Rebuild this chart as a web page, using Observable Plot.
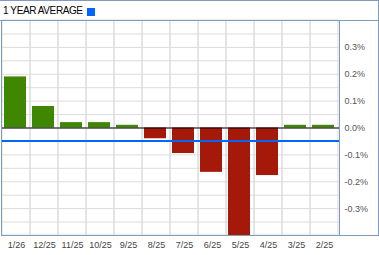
<!DOCTYPE html>
<html>
<head>
<meta charset="utf-8">
<script src="https://cdn.jsdelivr.net/npm/d3@7"></script>
<script src="https://cdn.jsdelivr.net/npm/@observablehq/plot@0.6"></script>
<style>
  html, body { margin: 0; padding: 0; background: #fff; }
  #wrap { position: relative; width: 379px; height: 255px; font-family: "Liberation Sans", Arial, sans-serif; }
  #head { box-sizing: border-box; width: 379px; height: 21px; border-top: 1px solid #7f9cbd; border-right: 1px solid #7f9cbd; border-bottom: 1px solid #7f9cbd; position: relative; }
  #head .t { position: absolute; left: 3px; top: 4px; font-size: 10px; color: #000; line-height: 11px; letter-spacing: -0.4px; }
  #head .sq { position: absolute; left: 87px; top: 7px; width: 8px; height: 8px; background: #0066ff; }
  #chart { margin-top: -1px; }
  #chart svg { display: block; }
  #box { position: absolute; left: 339px; top: 20px; width: 40px; height: 216px; box-sizing: border-box; border-right: 1px solid #7f9cbd; border-bottom: 1px solid #7f9cbd; pointer-events: none; }
</style>
</head>
<body>
<div id="wrap">
  <div id="head"><span class="t">1 YEAR AVERAGE</span><span class="sq"></span></div>
  <div id="chart"></div>
  <div id="box"></div>
</div>
<script>
const months = ["1/26","12/25","11/25","10/25","9/25","8/25","7/25","6/25","5/25","4/25","3/25","2/25"];
const values = [0.19, 0.08, 0.02, 0.02, 0.01, -0.04, -0.095, -0.165, -0.43, -0.177, 0.01, 0.01];
const average = [-0.048];
const gridTicks = [-0.4,-0.35,-0.3,-0.25,-0.2,-0.15,-0.1,-0.05,0,0.05,0.1,0.15,0.2,0.25,0.3,0.35,0.4];
const labelTicks = [-0.3,-0.2,-0.1,0,0.1,0.2,0.3];
const yDomain = [-0.4, 0.4];

const data = months.map((m, i) => ({month: m, value: values[i]}));

const chart = Plot.plot({
  width: 379,
  height: 235,
  marginLeft: 1,
  marginRight: 40,
  marginTop: 0,
  marginBottom: 20,
  style: {fontFamily: "'Liberation Sans', Arial, sans-serif", fontSize: "9px", color: "#444", background: "#fff", overflow: "visible"},
  x: {domain: months, padding: 0, label: null},
  y: {domain: yDomain, label: null},
  marks: [
    Plot.gridY(gridTicks, {stroke: "#dcdcdc", strokeOpacity: 1}),
    Plot.barY(months, {x: d => d, y1: yDomain[0], y2: yDomain[1], fill: "none", stroke: "#dcdcdc"}),
    Plot.barY(data, {x: "month", y: "value", fill: d => d.value >= 0 ? "#3f8700" : "#a5190b", insetLeft: 2, insetRight: 4, clip: true}),
    Plot.ruleY([0], {stroke: "#000", strokeWidth: 1}),
    Plot.ruleY(average, {stroke: "#0066ff", strokeWidth: 2}),
    Plot.frame({stroke: "#7f9cbd"}),
    Plot.axisY(labelTicks, {anchor: "right", tickSize: 0, tickPadding: 5, textAnchor: "start", tickFormat: d => d.toFixed(1) + "%", fill: "#555", letterSpacing: "0.6px", label: null}),
    Plot.axisX({tickSize: 0, tickPadding: 6, fill: "#444", label: null})
  ]
});
document.getElementById("chart").appendChild(chart);
</script>
</body>
</html>
